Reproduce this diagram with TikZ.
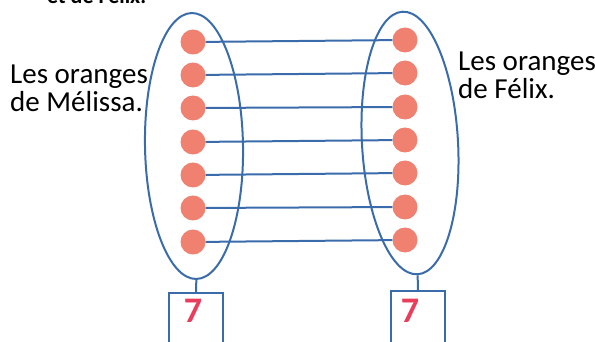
\documentclass[tikz,border=0pt]{standalone}
\usepackage{fontspec}
\setmainfont{Carlito}
\usetikzlibrary{shapes.geometric}

\definecolor{setblue}{RGB}{58,108,172}
\definecolor{fruitcol}{RGB}{240,128,112}
\definecolor{numred}{RGB}{232,62,92}

\tikzset{
  setline/.style={ellipse,draw=setblue,line width=2pt,inner sep=0pt},
  fruit/.style={circle,fill=fruitcol,minimum size=25pt,inner sep=0pt},
  link/.style={setblue,line width=2pt},
  numbox/.style={draw=setblue,line width=2pt,minimum width=54pt,minimum height=60pt,anchor=north},
  seven/.style={text=numred,font=\fontsize{36}{36}\selectfont\bfseries},
  caption/.style={align=left,font=\fontsize{29}{28.5}\selectfont,inner sep=0pt,anchor=base west}
}

\begin{document}
\begin{tikzpicture}[x=1pt,y=-1pt]
  \useasboundingbox (0,0) rectangle (595,342);

  % the two sets
  \node[setline,minimum width=98pt,minimum height=266pt,rotate=1] (mset) at (194,146) {};
  \node[setline,minimum width=96pt,minimum height=263pt,rotate=3.3] (fset) at (410,143) {};

  % oranges and links
  \foreach \i/\ym/\yf in {1/42/40,2/75/73,3/108/107,4/142/140,5/175/173,6/208/207,7/242/240}{
    \node[fruit] (m\i) at (193,\ym) {};
    \node[fruit] (f\i) at (405,\yf) {};
    \draw[link] (m\i) -- (f\i);
  }

  % counts
  \node[numbox] (mbox) at (196,292) {};
  \node[numbox] (fbox) at (418,290) {};
  \draw[link] (mset.south) -- (mbox.north);
  \draw[link] (fset.south) -- (fbox.north);
  \node[seven] (mnum) at (193,311) {7};
  \node[seven] (fnum) at (410,311) {7};

  % texts
  \node[caption] (mtext) at (10,112) {Les oranges\\de Mélissa.};
  \node[caption] (ftext) at (458,99) {Les oranges\\de Félix.};
  \node[anchor=base west,inner sep=0pt,font=\fontsize{22}{22}\selectfont\bfseries] (title) at (47,4) {et de Félix.};
\end{tikzpicture}
\end{document}
